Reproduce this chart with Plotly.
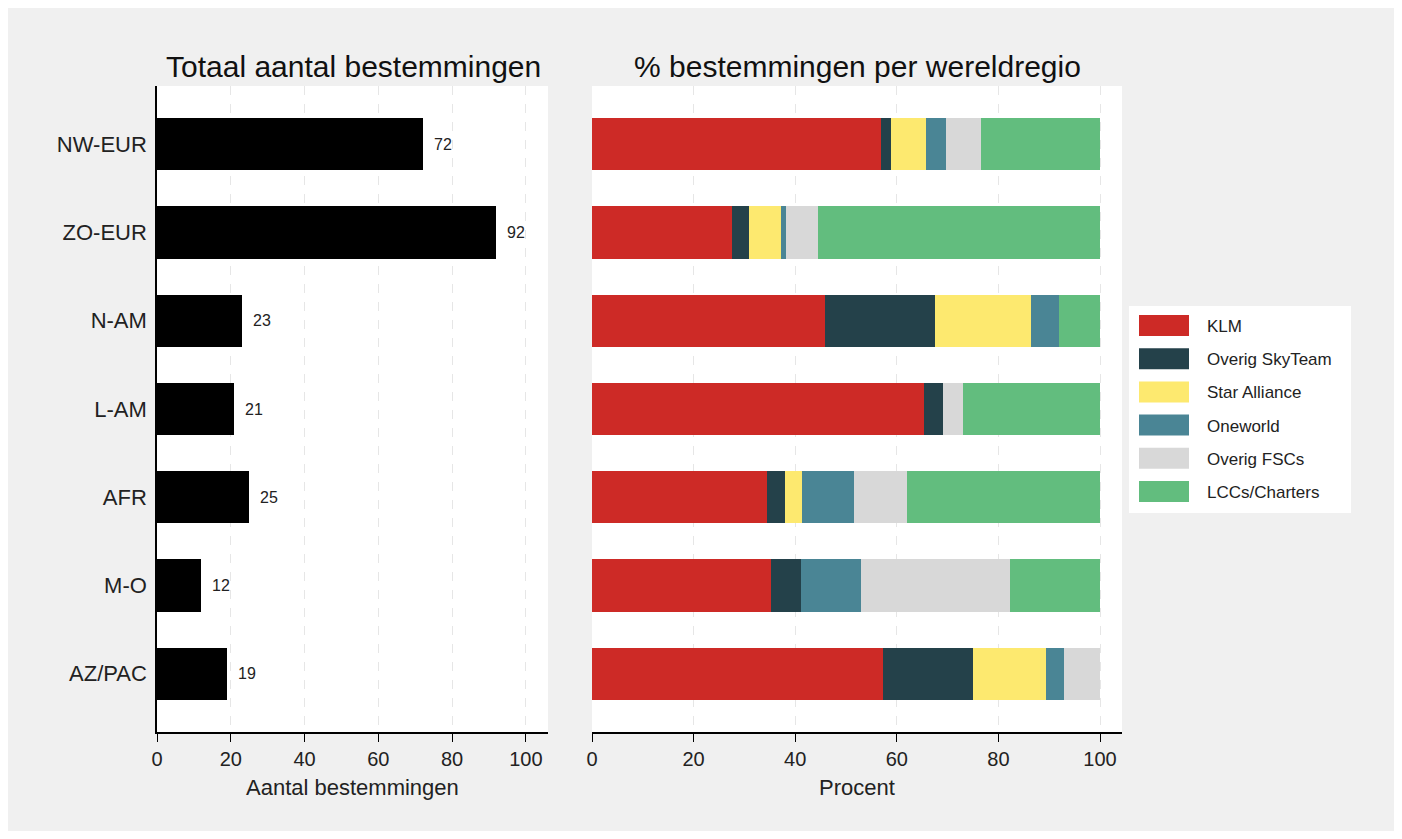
import plotly.graph_objects as go

# ---------------- data ----------------
categories = ["NW-EUR", "ZO-EUR", "N-AM", "L-AM", "AFR", "M-O", "AZ/PAC"]
totals = [72, 92, 23, 21, 25, 12, 19]

series_names = ["KLM", "Overig SkyTeam", "Star Alliance", "Oneworld", "Overig FSCs", "LCCs/Charters"]
klm = [56.9, 27.6, 45.9, 65.4, 34.5, 35.3, 57.2]
skyteam = [1.9, 3.3, 21.6, 3.7, 3.4, 5.8, 17.8]
star = [6.9, 6.3, 19.0, 0.0, 3.5, 0.0, 14.3]
oneworld = [3.9, 0.9, 5.4, 0.0, 10.2, 11.8, 3.6]
fscs = [6.9, 6.3, 0.0, 4.0, 10.4, 29.4, 7.1]
lcc = [23.5, 55.6, 8.1, 26.9, 38.0, 17.7, 0.0]

x_ticks = [0, 20, 40, 60, 80, 100]

colors = ["#cd2a26", "#24414a", "#fde96f", "#4a8595", "#d8d8d8", "#62bd7e"]
series_values = [klm, skyteam, star, oneworld, fscs, lcc]

FONT = "Arial, Liberation Sans, sans-serif"
OX, OY = 8, 8          # page body margin offset
W, H = 1390, 823
# plot area in screenshot pixels
PL, PR, PT, PB = 157, 1122, 86, 732
ML, MR, MT, MB = PL - OX, (OX + W) - PR, PT - OY, (OY + H) - PB
PW = PR - PL
PH = PB - PT


def px(xp):
    return (xp - PL) / PW


def py(yp):
    return (PB - yp) / PH


fig = go.Figure()

# left panel: totals
fig.add_trace(go.Bar(
    y=categories, x=totals, orientation="h",
    marker=dict(color="black", line=dict(width=0)),
    xaxis="x", yaxis="y", showlegend=False, name="Totaal",
))

# right panel: stacked shares
for name, vals, col in zip(series_names, series_values, colors):
    fig.add_trace(go.Bar(
        y=categories, x=vals, orientation="h", name=name,
        marker=dict(color=col, line=dict(width=0)),
        xaxis="x2", yaxis="y2", showlegend=False,
    ))

annotations = []
# value labels
for c, v in zip(categories, totals):
    annotations.append(dict(
        x=v, y=c, xref="x", yref="y", text=str(v), showarrow=False,
        xanchor="left", yanchor="middle", xshift=9,
        font=dict(family=FONT, size=16, color="#222"),
    ))

# titles
annotations.append(dict(x=px(353), y=py(66), xref="paper", yref="paper",
                        text="Totaal aantal bestemmingen", showarrow=False,
                        xanchor="center", yanchor="middle",
                        font=dict(family=FONT, size=30, color="#111")))
annotations.append(dict(x=px(857), y=py(66), xref="paper", yref="paper",
                        text="% bestemmingen per wereldregio", showarrow=False,
                        xanchor="center", yanchor="middle",
                        font=dict(family=FONT, size=30, color="#111")))
# axis titles
annotations.append(dict(x=px(352), y=py(787), xref="paper", yref="paper",
                        text="Aantal bestemmingen", showarrow=False,
                        xanchor="center", yanchor="middle",
                        font=dict(family=FONT, size=22, color="#222")))
annotations.append(dict(x=px(857), y=py(787), xref="paper", yref="paper",
                        text="Procent", showarrow=False,
                        xanchor="center", yanchor="middle",
                        font=dict(family=FONT, size=22, color="#222")))

shapes = []
# legend box
shapes.append(dict(type="rect", xref="paper", yref="paper",
                   x0=px(1129), x1=px(1351), y0=py(513), y1=py(306),
                   fillcolor="white", line=dict(width=0), layer="below"))
for i, (name, col) in enumerate(zip(series_names, colors)):
    yc = 325.5 + i * 33.2
    shapes.append(dict(type="rect", xref="paper", yref="paper",
                       x0=px(1139), x1=px(1189), y0=py(yc + 10.5), y1=py(yc - 10.5),
                       fillcolor=col, line=dict(width=0), layer="above"))
    annotations.append(dict(x=px(1205), y=py(yc + 1), xref="paper", yref="paper",
                            text=name, showarrow=False, xanchor="left", yanchor="middle",
                            font=dict(family=FONT, size=17, color="#222")))

grid = dict(showgrid=True, gridcolor="#e6e6e6", gridwidth=1, griddash="dash")

fig.update_layout(
    width=W, height=H,
    margin=dict(l=ML, r=MR, t=MT, b=MB, pad=0),
    paper_bgcolor="#f0f0f0", plot_bgcolor="white",
    barmode="stack", bargap=0.41,
    font=dict(family=FONT, size=20, color="#222"),
    showlegend=False,
    xaxis=dict(domain=[0, px(548)], range=[0, 106.0], tickvals=x_ticks,
               ticks="outside", ticklen=8, tickcolor="black", tickwidth=1,
               showline=True, linecolor="black", linewidth=1.5,
               zeroline=False, tickfont=dict(size=20, color="#222"),
               anchor="y", **grid),
    yaxis=dict(domain=[0, 1], categoryorder="array", categoryarray=categories,
               range=[6.66, -0.66], showgrid=False, zeroline=False,
               showline=True, linecolor="black", linewidth=1.5,
               ticks="", ticklabelstandoff=4, tickfont=dict(size=22, color="#222"),
               anchor="x"),
    xaxis2=dict(domain=[px(592), 1], range=[0, 104.33], tickvals=x_ticks,
                ticks="outside", ticklen=8, tickcolor="black", tickwidth=1,
                showline=True, linecolor="black", linewidth=1.5,
                zeroline=False, tickfont=dict(size=20, color="#222"),
                anchor="y2", **grid),
    yaxis2=dict(domain=[0, 1], categoryorder="array", categoryarray=categories,
                range=[6.66, -0.66], showgrid=False, zeroline=False,
                showline=False, showticklabels=False, ticks="", anchor="x2"),
    annotations=annotations,
    shapes=shapes,
)

fig.write_html("out.html")
